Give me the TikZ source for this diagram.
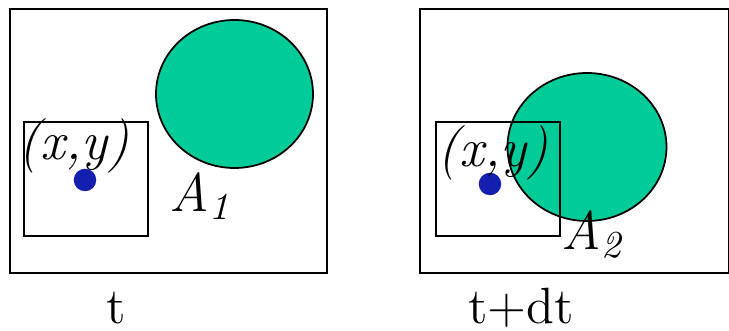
\documentclass[tikz,border=0pt]{standalone}
\usepackage{tikz}
\usetikzlibrary{positioning,calc}
\definecolor{areagreen}{RGB}{0,204,153}
\definecolor{dotblue}{RGB}{20,30,175}

\begin{document}
\begin{tikzpicture}[x=0.01cm,y=-0.01cm,
  frame/.style={draw, line width=0.6pt},
  area/.style={draw, line width=0.5pt, fill=areagreen},
  pt/.style={circle, fill=dotblue, inner sep=0pt, minimum size=6.4pt},
  lbl/.style={anchor=base, inner sep=0pt, font=\fontsize{15.5}{18}\selectfont\itshape},
  tlbl/.style={anchor=base, inner sep=0pt, font=\fontsize{14.5}{18}\selectfont}
]
\useasboundingbox (0,0) rectangle (729,331);

% time t
\draw[frame] (10,9) rectangle (327,273);
\draw[area] (234.5,94) ellipse [x radius=78.5, y radius=74];
\draw[frame] (24,122) rectangle (148,236);
\node[pt]   (p1)  at (85,180) {};
\node[lbl]  (xy1) at (74,160) {(x,y)};
\node[lbl]  (a1)  at (200,212) {A\textsubscript{1}};
\node[tlbl] (t1)  at (116,324) {t};

% time t+dt
\draw[frame] (420,9) rectangle (729,273);
\draw[area] (587,147) ellipse [x radius=79.5, y radius=74];
\draw[frame] (436,122) rectangle (560,236);
\node[pt]   (p2)  at (490,184) {};
\node[lbl]  (xy2) at (493,167) {(x,y)};
\node[lbl]  (a2)  at (592,250) {A\textsubscript{2}};
\node[tlbl] (t2)  at (521,324) {t+dt};
\end{tikzpicture}
\end{document}
